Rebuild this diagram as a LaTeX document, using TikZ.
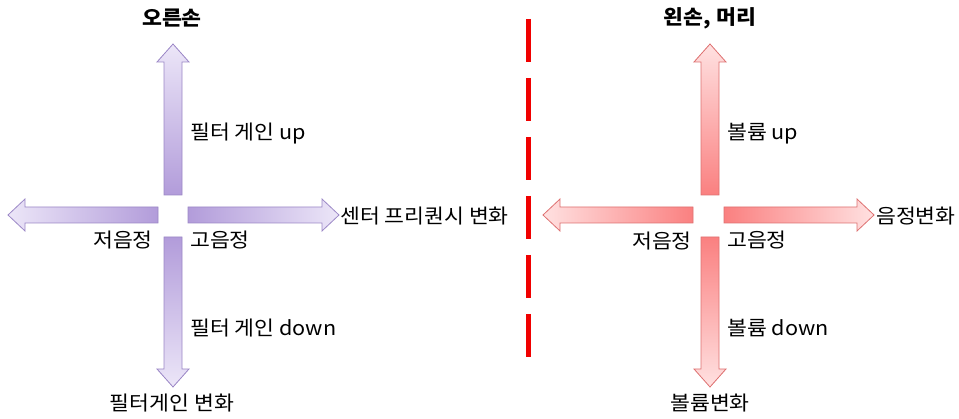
\documentclass[tikz,border=0pt]{standalone}
\usepackage{fontspec}
\setmainfont[FakeStretch=1.08]{Noto Sans CJK KR}
\begin{document}
\begin{tikzpicture}[x=1pt,y=-1pt,
  lbl/.style={font=\fontsize{20}{23}\selectfont, inner sep=0pt},
  ttl/.style={font=\fontsize{20}{23}\selectfont\bfseries, inner sep=0pt},
  parr/.style={draw=purpDraw, line width=0.8pt, line join=miter},
  rarr/.style={draw=redDraw, line width=0.8pt, line join=miter}]
\definecolor{purpDark}{RGB}{178,156,218}
\definecolor{purpLight}{RGB}{236,230,248}
\definecolor{purpDraw}{RGB}{155,135,198}
\definecolor{redDark}{RGB}{250,128,128}
\definecolor{redLight}{RGB}{255,225,225}
\definecolor{redDraw}{RGB}{222,112,112}
\definecolor{dashRed}{RGB}{240,0,0}
\useasboundingbox (0,0) rectangle (959,419);
% left cross (purple)
\shade[parr, top color=purpLight, bottom color=purpDark]
  (164,195)--(164,62)--(157,62)--(173,44)--(189,62)--(182,62)--(182,195)--cycle;
\shade[parr, top color=purpDark, bottom color=purpLight]
  (164,237)--(164,369)--(157,369)--(173,387)--(189,369)--(182,369)--(182,237)--cycle;
\shade[parr, left color=purpLight, right color=purpDark]
  (158,207)--(25,207)--(25,199)--(8,215)--(25,231)--(25,223)--(158,223)--cycle;
\shade[parr, left color=purpDark, right color=purpLight]
  (188,207)--(322,207)--(322,199)--(339,215)--(322,231)--(322,223)--(188,223)--cycle;
% right cross (red)
\shade[rarr, top color=redLight, bottom color=redDark]
  (701,195)--(701,62)--(694,62)--(710,44)--(726,62)--(719,62)--(719,195)--cycle;
\shade[rarr, top color=redDark, bottom color=redLight]
  (701,237)--(701,369)--(694,369)--(710,387)--(726,369)--(719,369)--(719,237)--cycle;
\shade[rarr, left color=redLight, right color=redDark]
  (693,207)--(560,207)--(560,199)--(543,215)--(560,231)--(560,223)--(693,223)--cycle;
\shade[rarr, left color=redDark, right color=redLight]
  (724,207)--(857,207)--(857,199)--(874,215)--(857,231)--(857,223)--(724,223)--cycle;
% dashed divider
\draw[dashRed, line width=5pt, dash pattern=on 43pt off 16pt] (528,19) -- (528,362);
% texts left
\node[ttl] (t1) at (172,18) {오른손};
\node[lbl, anchor=west] (l1) at (190,134) {필터 게인 up};
\node[lbl, anchor=west] (l2) at (340,216) {센터 프리퀀시 변화};
\node[lbl, anchor=east] (l3) at (153,240) {저음정};
\node[lbl, anchor=west] (l4) at (190,240) {고음정};
\node[lbl, anchor=west] (l5) at (190,328) {필터 게인 down};
\node[lbl] (l6) at (172,403) {필터게인 변화};
% texts right
\node[ttl] (t2) at (710,18) {왼손, 머리};
\node[lbl, anchor=west] (r1) at (727,134) {볼륨 up};
\node[lbl, anchor=west] (r2) at (876,216) {음정변화};
\node[lbl, anchor=east] (r3) at (692,241) {저음정};
\node[lbl, anchor=west] (r4) at (727,240) {고음정};
\node[lbl, anchor=west] (r5) at (727,328) {볼륨 down};
\node[lbl] (r6) at (710,403) {볼륨변화};
\end{tikzpicture}
\end{document}
